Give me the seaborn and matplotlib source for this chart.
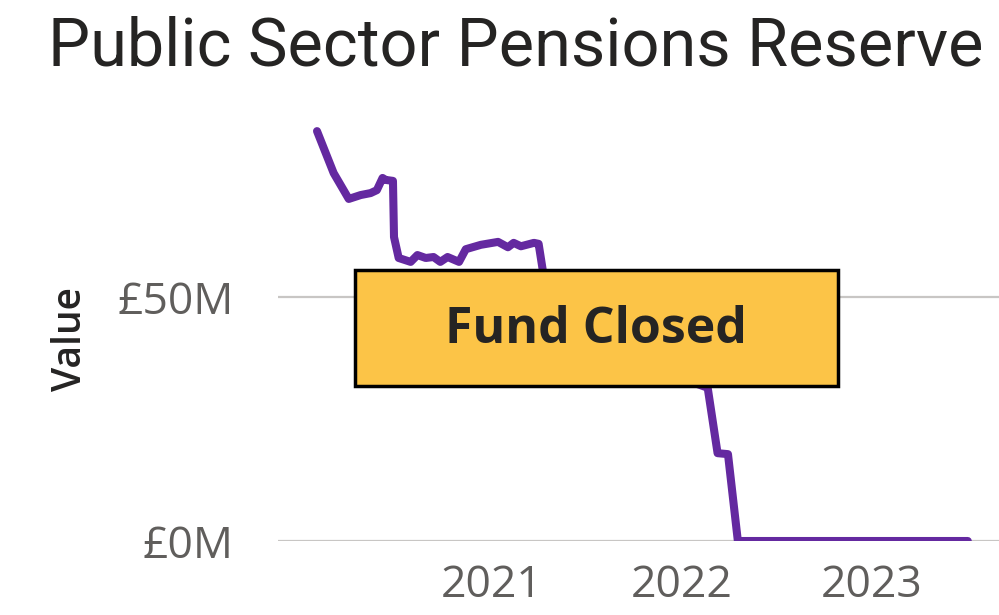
import matplotlib
matplotlib.use("Agg")
import matplotlib.pyplot as plt
import matplotlib.dates as mdates
from matplotlib.patches import Rectangle
import numpy as np, pandas as pd
import seaborn as sns

# values (GBP millions)
dates = ["2020-01-31", "2020-03-03", "2020-04-01", "2020-04-24", "2020-05-13",
         "2020-05-25", "2020-06-05", "2020-06-11", "2020-06-25", "2020-06-27",
         "2020-07-06", "2020-07-29", "2020-08-11", "2020-08-27", "2020-09-11",
         "2020-09-24", "2020-10-08", "2020-10-30", "2020-11-12", "2020-12-11",
         "2021-01-13", "2021-02-01", "2021-02-12", "2021-02-26", "2021-03-23",
         "2021-04-01", "2021-04-15", "2021-08-01", "2021-12-15", "2022-02-20",
         "2022-03-11", "2022-03-31", "2022-04-19", "2023-07-05"]
values = [84.0, 75.4, 70.1, 70.9, 71.3,
          71.9, 74.4, 74.0, 73.8, 62.3,
          58.0, 57.2, 58.6, 58.0, 58.2,
          57.2, 58.2, 57.2, 59.8, 60.7,
          61.3, 60.2, 61.1, 60.4, 61.1,
          60.9, 51.4, 41.2, 34.0, 31.4,
          18.0, 17.8, 0.0, 0.0]
year_ticks = ["2021-01-01", "2022-01-01", "2023-01-01"]
y_ticks = [0, 50]
title = "Public Sector Pensions Reserve"
note = "Fund Closed"

df = pd.DataFrame(dict(Date=pd.to_datetime(dates), Value=values))

sns.set_style("white")
plt.rcParams["font.family"] = ["Open Sans", "DejaVu Sans"]

W, H = 999, 615
fig = plt.figure(figsize=(W / 100, H / 100), dpi=100)
ax = fig.add_axes([278 / W, 74 / H, 1 - 278 / W, (541 - 111.6) / H])

for yv in y_ticks:
    ax.axhline(yv, color="#C8C6C4", linewidth=1.6, zorder=1)

sns.lineplot(data=df, x="Date", y="Value", ax=ax, color="#6429A0",
             linewidth=5.8, solid_capstyle="round", solid_joinstyle="round",
             zorder=3)

ax.set_ylim(0, 88)
ax.set_xlim(pd.Timestamp("2019-11-17"), pd.Timestamp("2023-09-03"))
ax.set_yticks(y_ticks)
ax.set_yticklabels([f"£{v}M" for v in y_ticks])
ax.set_xticks(pd.to_datetime(year_ticks))
ax.xaxis.set_major_formatter(mdates.DateFormatter("%Y"))
ax.tick_params(axis="both", length=0, labelsize=32, labelcolor="#605E5C")
ax.tick_params(axis="y", pad=32)
ax.tick_params(axis="x", pad=16)
ax.set_xlabel("")
ax.set_ylabel("Value", fontsize=28, fontweight="semibold", color="#252423")
ax.yaxis.set_label_coords(-0.259, 0.47)
for s in ax.spines.values():
    s.set_visible(False)

fig.text(48 / W, 1 - 66 / H, title, fontsize=48, color="#252423",
         family=["Roboto", "DejaVu Sans"], ha="left", va="baseline")

# overlay box
fig.patches.append(Rectangle((355 / W, 1 - 386 / H), (838 - 355) / W,
                             (386 - 270) / H, transform=fig.transFigure,
                             facecolor="#FCC447", edgecolor="black",
                             linewidth=2.5, zorder=5))
fig.text(596 / W, 1 - 330 / H, note, fontsize=36, fontweight="bold",
         color="#252423", ha="center", va="center", zorder=6)

fig.savefig("out.png", dpi=100)
